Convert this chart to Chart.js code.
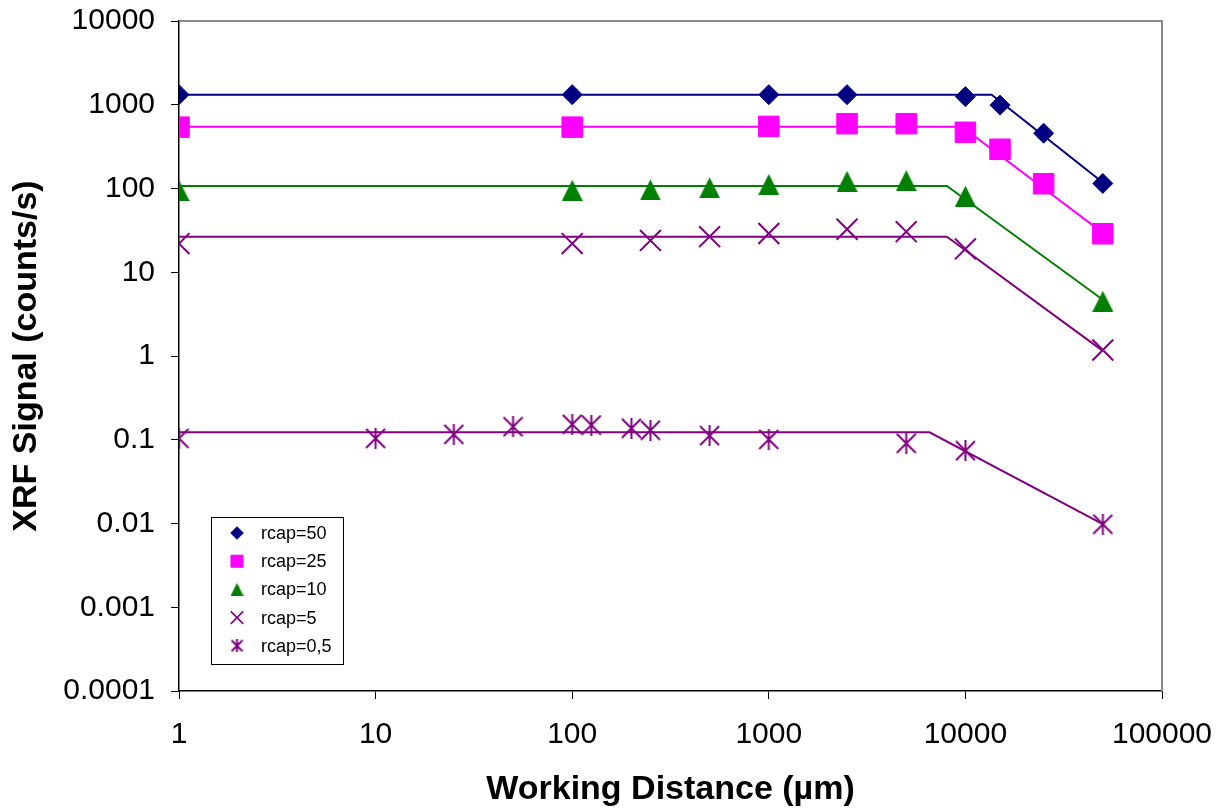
<!DOCTYPE html>
<html>
<head>
<meta charset="utf-8">
<script src="https://cdn.jsdelivr.net/npm/chart.js@4.4.1/dist/chart.umd.min.js"></script>
<style>
  html, body { margin: 0; padding: 0; background: #fff; }
  canvas { display: block; }
</style>
</head>
<body>
<canvas id="myChart" width="1227" height="812"></canvas>
<script>
// eixos
const xTicks = [1, 10, 100, 1000, 10000, 100000]
const xTickLabels = ['1', '10', '100', '1000', '10000', '100000']
const yTicks = [0.0001, 0.001, 0.01, 0.1, 1, 10, 100, 1000, 10000]
const yTickLabels = ['0.0001', '0.001', '0.01', '0.1', '1', '10', '100', '1000', '10000']

const seriesNames = ['rcap=50', 'rcap=25', 'rcap=10', 'rcap=5', 'rcap=0,5']
const seriesColors = ['#000080', '#FF00FF', '#008000', '#800080', '#800080']

// medidas (pontos)
const dist50 = [1, 100, 1000, 2500, 10000, 15000, 25000, 50000]
const sinal50 = [1320, 1320, 1320, 1320, 1250, 990, 457, 115]
const dist25 = [1, 100, 1000, 2500, 5000, 10000, 15000, 25000, 50000]
const sinal25 = [540, 540, 552, 594, 594, 469, 294, 114, 28.8]
const dist10 = [1, 100, 250, 500, 1000, 2500, 5000, 10000, 50000]
const sinal10 = [95, 95, 96, 102, 112, 122, 124, 81, 4.5]
const dist5 = [1, 100, 250, 500, 1000, 2500, 5000, 10000, 50000]
const sinal5 = [22, 22, 24, 26.6, 29, 32.6, 30.5, 19, 1.18]
const dist05 = [1, 10, 25, 50, 100, 125, 200, 250, 500, 1000, 5000, 10000, 50000]
const sinal05 = [0.104, 0.104, 0.116, 0.143, 0.153, 0.15, 0.137, 0.13, 0.112, 0.101, 0.0906, 0.074, 0.0098]

// curvas ajustadas
const fitDist50 = [1, 13600, 50000]
const fitSinal50 = [1318, 1318, 118]
const fitDist25 = [1, 9600, 50000]
const fitSinal25 = [547, 547, 29.5]
const fitDist10 = [1, 8050, 50000]
const fitSinal10 = [107, 107, 4.7]
const fitDist5 = [1, 8050, 50000]
const fitSinal5 = [26.6, 26.6, 1.15]
const fitDist05 = [1, 6570, 50000]
const fitSinal05 = [0.1227, 0.1227, 0.0098]

// linha preta no rodape
const baseDist = [1, 8]
const baseSinal = [0.0001, 0.0001]

const fonte = '"Liberation Sans", Arial, sans-serif'

const Grafico = {
    pares(xs, ys) {
        return xs.map((x, i) => ({ x: x, y: ys[i] }))
    },
    marcador(tipo, tam, cor) {
        let c = document.createElement('canvas')
        c.width = tam
        c.height = tam
        let g = c.getContext('2d')
        g.fillStyle = cor
        g.strokeStyle = cor
        g.lineWidth = 2
        let m = tam / 2
        g.beginPath()
        if (tipo === 'triangulo') {
            g.moveTo(m, 0)
            g.lineTo(tam, tam)
            g.lineTo(0, tam)
            g.closePath()
            g.fill()
        } else {
            g.moveTo(1, 1)
            g.lineTo(tam - 1, tam - 1)
            g.moveTo(tam - 1, 1)
            g.lineTo(1, tam - 1)
            g.moveTo(m, 0)
            g.lineTo(m, tam)
            g.stroke()
        }
        return c
    },
    estilos() {
        return [
            { pointStyle: 'rectRot', radius: 10, legRadius: 6.3 },
            { pointStyle: 'rect', radius: 14.5, legRadius: 8.5 },
            { pointStyle: Grafico.marcador('triangulo', 21, seriesColors[2]), radius: 10, legStyle: Grafico.marcador('triangulo', 13, seriesColors[2]) },
            { pointStyle: 'crossRot', radius: 14.8, legRadius: 8.8 },
            { pointStyle: Grafico.marcador('asterisco', 21, seriesColors[4]), radius: 10, legStyle: Grafico.marcador('asterisco', 13, seriesColors[4]) },
        ]
    },
    render() {
        let estilos = Grafico.estilos()
        let medidas = [[dist50, sinal50], [dist25, sinal25], [dist10, sinal10], [dist5, sinal5], [dist05, sinal05]]
        let ajustes = [[fitDist50, fitSinal50], [fitDist25, fitSinal25], [fitDist10, fitSinal10], [fitDist5, fitSinal5], [fitDist05, fitSinal05]]

        let datasets = []
        ajustes.forEach(([xs, ys], i) => {
            datasets.push({
                label: 'fit ' + seriesNames[i],
                data: Grafico.pares(xs, ys),
                showLine: true,
                borderColor: seriesColors[i],
                borderWidth: 2,
                pointRadius: 0,
                order: 2,
            })
        })
        medidas.forEach(([xs, ys], i) => {
            datasets.push({
                label: seriesNames[i],
                data: Grafico.pares(xs, ys),
                showLine: false,
                pointStyle: estilos[i].pointStyle,
                pointRadius: estilos[i].radius,
                backgroundColor: seriesColors[i],
                borderColor: seriesColors[i],
                borderWidth: (i === 3) ? 2 : 1,
                order: 1,
            })
        })
        datasets.push({
            label: 'base',
            data: Grafico.pares(baseDist, baseSinal),
            showLine: true,
            borderColor: '#000',
            borderWidth: 2,
            pointRadius: 0,
            order: 3,
        })

        const moldura = {
            id: 'moldura',
            beforeDatasetsDraw(chart) {
                let { ctx, chartArea } = chart
                ctx.save()
                ctx.strokeStyle = '#8a8a8a'
                ctx.lineWidth = 2
                ctx.beginPath()
                ctx.moveTo(chartArea.left, chartArea.top)
                ctx.lineTo(chartArea.right, chartArea.top)
                ctx.lineTo(chartArea.right, chartArea.bottom)
                ctx.stroke()
                ctx.restore()
            }
        }

        const legenda = {
            id: 'legenda',
            afterDraw(chart) {
                let ctx = chart.ctx
                let caixa = { x: 211, y: 517, w: 132, h: 147 }
                ctx.save()
                ctx.fillStyle = '#fff'
                ctx.fillRect(caixa.x, caixa.y, caixa.w, caixa.h)
                ctx.strokeStyle = '#000'
                ctx.lineWidth = 1
                ctx.strokeRect(caixa.x + 0.5, caixa.y + 0.5, caixa.w, caixa.h)
                ctx.font = '18px ' + fonte
                ctx.textBaseline = 'middle'
                seriesNames.forEach((nome, i) => {
                    let y = caixa.y + 16 + i * 28.2
                    let est = estilos[i]
                    ctx.fillStyle = seriesColors[i]
                    ctx.strokeStyle = seriesColors[i]
                    ctx.lineWidth = (i === 3) ? 1.6 : 1
                    Chart.helpers.drawPoint(ctx, {
                        pointStyle: est.legStyle || est.pointStyle,
                        radius: est.legRadius || 6,
                        rotation: 0,
                        borderWidth: ctx.lineWidth,
                    }, caixa.x + 26, y)
                    ctx.fillStyle = '#000'
                    ctx.fillText(nome, caixa.x + 50, y + 1)
                })
                ctx.restore()
            }
        }

        const ctx = document.getElementById('myChart').getContext('2d')
        new Chart(ctx, {
            type: 'scatter',
            data: { datasets },
            options: {
                responsive: false,
                animation: false,
                devicePixelRatio: 1,
                layout: { padding: { top: 21, right: 65, left: 0, bottom: 0 } },
                plugins: {
                    legend: { display: false },
                    tooltip: { enabled: false },
                },
                scales: {
                    x: {
                        type: 'logarithmic',
                        min: 1,
                        max: 100000,
                        afterBuildTicks: axis => { axis.ticks = xTicks.map(v => ({ value: v })) },
                        afterFit: axis => {
                            axis.height = 121
                            axis.paddingLeft = 0
                            axis.paddingRight = 0
                        },
                        border: { display: true, color: '#000', width: 1.5 },
                        grid: { drawOnChartArea: false, drawTicks: true, tickLength: 8, color: '#000' },
                        ticks: {
                            autoSkip: false,
                            maxRotation: 0,
                            padding: 18,
                            color: '#000',
                            font: { family: fonte, size: 30 },
                            callback: v => xTickLabels[xTicks.indexOf(v)],
                        },
                        title: {
                            display: true,
                            text: 'Working Distance (µm)',
                            color: '#000',
                            font: { family: fonte, size: 34, weight: 'bold' },
                            padding: { top: 0, bottom: 2 },
                        },
                    },
                    y: {
                        type: 'logarithmic',
                        min: 0.0001,
                        max: 10000,
                        afterBuildTicks: axis => { axis.ticks = yTicks.map(v => ({ value: v })) },
                        afterFit: axis => {
                            axis.width = 179
                            axis.paddingTop = 0
                            axis.paddingBottom = 0
                        },
                        border: { display: true, color: '#000', width: 1.5 },
                        grid: { drawOnChartArea: false, drawTicks: true, tickLength: 8, color: '#000' },
                        ticks: {
                            autoSkip: false,
                            padding: 16,
                            color: '#000',
                            font: { family: fonte, size: 30 },
                            callback: v => yTickLabels[yTicks.indexOf(v)],
                        },
                        title: {
                            display: true,
                            text: 'XRF Signal (counts/s)',
                            color: '#000',
                            font: { family: fonte, size: 34, weight: 'bold' },
                            padding: { top: 6, bottom: 0 },
                        },
                    },
                },
            },
            plugins: [moldura, legenda],
        })
    },
}

Grafico.render()
</script>
</body>
</html>
